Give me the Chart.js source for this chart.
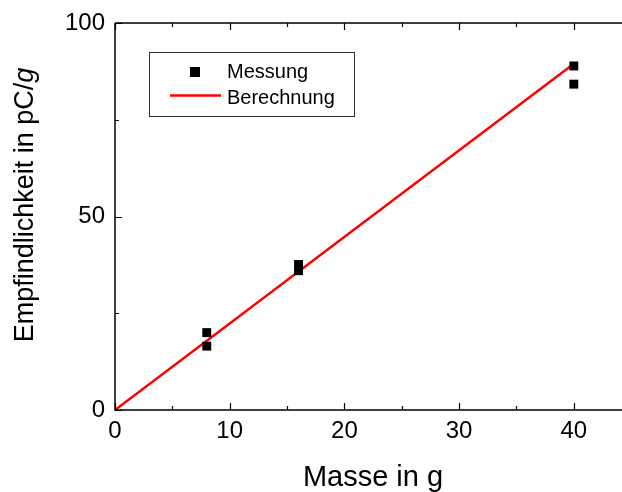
<!DOCTYPE html>
<html>
<head>
<meta charset="utf-8">
<script src="https://cdn.jsdelivr.net/npm/chart.js@4.4.1/dist/chart.umd.min.js"></script>
<style>
  html, body { margin: 0; padding: 0; background: #fff; }
  canvas { display: block; }
</style>
</head>
<body>
<canvas id="sensChart" width="622" height="492"></canvas>
<script>
// Messwerte (Masse in g, Empfindlichkeit in pC/g)
const measMass = [8, 8, 16, 16, 40, 40];
const measSens = [20.0, 16.5, 37.6, 36.0, 88.9, 84.2];

// Berechnete Gerade
const calcMass = [0, 40];
const calcSens = [0, 89.5];

const xTicks = [0, 10, 20, 30, 40];
const xMinor = [5, 15, 25, 35];
const yTicks = [0, 50, 100];
const yMinor = [25, 75];

const FONT = '"Liberation Sans", Arial, sans-serif';

// Rahmen, Innen-Ticks, Achsentitel und Legende
const framePlugin = {
  id: 'frame',
  afterDraw(chart) {
    const ctx = chart.ctx;
    const { left, right, top, bottom } = chart.chartArea;
    const xs = chart.scales.x;
    const ys = chart.scales.y;

    ctx.save();
    ctx.strokeStyle = '#000';
    ctx.lineWidth = 1.5;
    ctx.beginPath();
    ctx.moveTo(left, top);
    ctx.lineTo(right, top);
    ctx.moveTo(left, top);
    ctx.lineTo(left, bottom);
    ctx.lineTo(right, bottom);
    ctx.stroke();

    ctx.lineWidth = 1.2;
    ctx.beginPath();
    const xTick = (v, len) => {
      const px = Math.round(xs.getPixelForValue(v)) + 0.5;
      ctx.moveTo(px, bottom);
      ctx.lineTo(px, bottom - len);
      ctx.moveTo(px, top);
      ctx.lineTo(px, top + len);
    };
    const yTick = (v, len) => {
      const py = Math.round(ys.getPixelForValue(v)) + 0.5;
      ctx.moveTo(left, py);
      ctx.lineTo(left + len, py);
    };
    xTicks.forEach(v => xTick(v, 7));
    xMinor.forEach(v => xTick(v, 4));
    yTicks.forEach(v => yTick(v, 7));
    yMinor.forEach(v => yTick(v, 4));
    ctx.stroke();

    // Achsentitel
    ctx.fillStyle = '#000';
    ctx.textBaseline = 'alphabetic';
    ctx.textAlign = 'center';
    ctx.font = '29px ' + FONT;
    ctx.fillText('Masse in g', 373, 486);

    ctx.save();
    ctx.translate(33, 205);
    ctx.rotate(-Math.PI / 2);
    ctx.textAlign = 'left';
    const upright = '27px ' + FONT;
    const italic = 'italic 27px ' + FONT;
    ctx.font = upright;
    const part1 = 'Empfindlichkeit in pC/';
    const w1 = ctx.measureText(part1).width;
    ctx.font = italic;
    const w2 = ctx.measureText('g').width;
    const x0 = -(w1 + w2) / 2;
    ctx.font = upright;
    ctx.fillText(part1, x0, 0);
    ctx.font = italic;
    ctx.fillText('g', x0 + w1, 0);
    ctx.restore();

    // Legende
    ctx.lineWidth = 1;
    ctx.strokeStyle = '#333';
    ctx.strokeRect(149.5, 52.5, 205, 64);
    ctx.fillStyle = '#000';
    ctx.fillRect(190, 67, 10, 10);
    ctx.strokeStyle = '#ff0000';
    ctx.lineWidth = 2.5;
    ctx.beginPath();
    ctx.moveTo(170, 95.5);
    ctx.lineTo(221, 95.5);
    ctx.stroke();
    ctx.fillStyle = '#000';
    ctx.textAlign = 'left';
    ctx.font = '20px ' + FONT;
    ctx.fillText('Messung', 227, 78);
    ctx.fillText('Berechnung', 227, 103.5);

    ctx.restore();
  }
};

new Chart(document.getElementById('sensChart'), {
  type: 'scatter',
  data: {
    datasets: [
      {
        label: 'Berechnung',
        type: 'line',
        data: calcMass.map((m, i) => ({ x: m, y: calcSens[i] })),
        borderColor: '#ff0000',
        borderWidth: 2.5,
        pointRadius: 0,
        fill: false,
        order: 2
      },
      {
        label: 'Messung',
        data: measMass.map((m, i) => ({ x: m, y: measSens[i] })),
        pointStyle: 'rect',
        pointRadius: 6.3,
        borderWidth: 0,
        backgroundColor: '#000',
        borderColor: '#000',
        order: 1
      }
    ]
  },
  options: {
    responsive: false,
    animation: false,
    devicePixelRatio: 1,
    layout: {
      autoPadding: false,
      padding: { top: 23, right: 0, left: 0, bottom: 0 }
    },
    plugins: {
      legend: { display: false },
      tooltip: { enabled: false }
    },
    scales: {
      x: {
        type: 'linear',
        min: 0,
        max: 44.2,
        grid: { display: false, drawTicks: false },
        border: { display: false },
        afterFit: s => {
          s.height = 82;
          s.paddingLeft = 0;
          s.paddingRight = 0;
        },
        afterBuildTicks: s => { s.ticks = xTicks.map(v => ({ value: v })); },
        ticks: {
          color: '#000',
          padding: 7,
          maxRotation: 0,
          font: { family: FONT, size: 24 }
        }
      },
      y: {
        type: 'linear',
        min: 0,
        max: 100,
        grid: { display: false, drawTicks: false },
        border: { display: false },
        afterFit: s => {
          s.width = 115;
          s.paddingTop = 0;
          s.paddingBottom = 0;
        },
        afterBuildTicks: s => { s.ticks = yTicks.map(v => ({ value: v })); },
        ticks: {
          color: '#000',
          padding: 10,
          font: { family: FONT, size: 24 }
        }
      }
    }
  },
  plugins: [framePlugin]
});
</script>
</body>
</html>
